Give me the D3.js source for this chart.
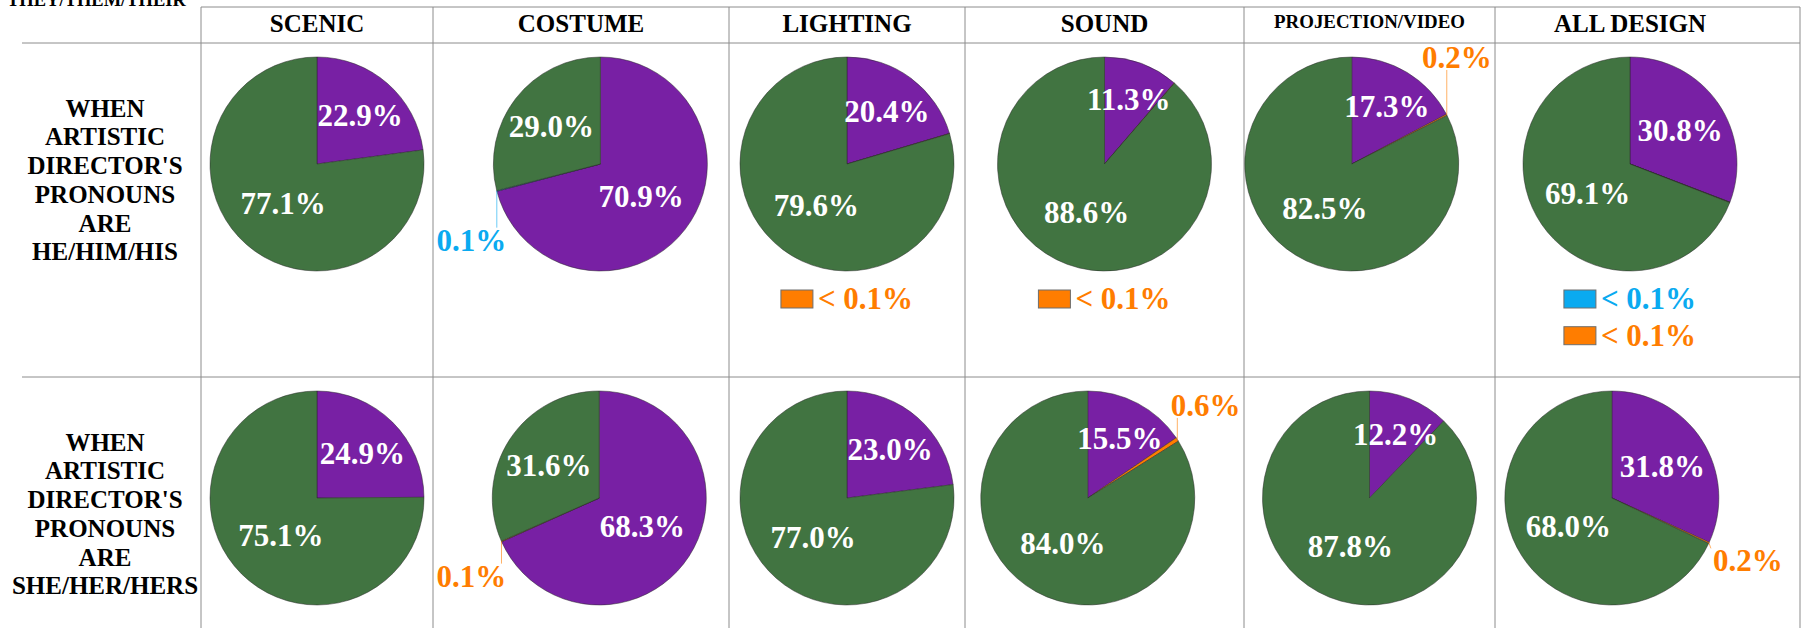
<!DOCTYPE html>
<html>
<head>
<meta charset="utf-8">
<script src="https://cdn.jsdelivr.net/npm/d3@7"></script>
<style>
  body { margin: 0; background: #fff; }
  svg { display: block; font-family: "Liberation Serif", "Times New Roman", serif; font-weight: bold; }
</style>
</head>
<body>
<svg id="chart" width="1809" height="628"></svg>
<script>
// columns of the table
const designAreas = ["SCENIC", "COSTUME", "LIGHTING", "SOUND", "PROJECTION/VIDEO", "ALL DESIGN"];

// designer pronoun groups, in slice order (clockwise from 12 o'clock)
const groups = ["SHE/HER/HERS", "THEY/THEM/THEIR", "NOT LISTED", "HE/HIM/HIS"];
const groupColors = ["#7820a4", "#0aaaf0", "#ff7d00", "#417441"];

// row headings
const rowLabels = [
  ["WHEN", "ARTISTIC", "DIRECTOR'S", "PRONOUNS", "ARE", "HE/HIM/HIS"],
  ["WHEN", "ARTISTIC", "DIRECTOR'S", "PRONOUNS", "ARE", "SHE/HER/HERS"]
];

// row 1: artistic director he/him/his  (values < 0.1 are estimates of "< 0.1%")
const heAdShe   = [22.9, 70.9, 20.4, 11.3, 17.3, 30.8];
const heAdThey  = [0,    0.1,  0,    0,    0,    0.04];
const heAdOther = [0,    0,    0.04, 0.06, 0.2,  0.04];
const heAdHe    = [77.1, 29.0, 79.6, 88.6, 82.5, 69.1];

// row 2: artistic director she/her/hers
const sheAdShe   = [24.9, 68.3, 23.0, 15.5, 12.2, 31.8];
const sheAdThey  = [0,    0,    0,    0,    0,    0];
const sheAdOther = [0,    0.1,  0,    0.6,  0,    0.2];
const sheAdHe    = [75.1, 31.6, 77.0, 84.0, 87.8, 68.0];

const rows = [
  [heAdShe, heAdThey, heAdOther, heAdHe],
  [sheAdShe, sheAdThey, sheAdOther, sheAdHe]
];

// ---- layout
const W = 1809, H = 628;
const colEdges = [201, 433, 729, 965, 1244, 1495, 1800];
const lastBoxRight = 1765;       // chart object in last cell is narrower than the cell
const headerTop = 7, headerBottom = 43;
const rowTops = [43, 377];
const tableLeft = 22;
const R = 107;
const fs = 31;
const gridColor = "#8c8c8c";

const svg = d3.select("#chart");
const color = d3.scaleOrdinal(groups, groupColors);
const boxRight = i => i === designAreas.length - 1 ? lastBoxRight : colEdges[i + 1];
const colX = d3.scaleOrdinal(designAreas, designAreas.map((d, i) => (colEdges[i] + boxRight(i)) / 2));
const fmt = v => v < 0.1 ? "< 0.1%" : d3.format(".1f")(v) + "%";

// ---- grid
const grid = svg.append("g").attr("stroke", gridColor).attr("stroke-width", 1);
grid.append("line").attr("x1", colEdges[0]).attr("x2", colEdges[6]).attr("y1", headerTop).attr("y2", headerTop);
[headerBottom, rowTops[1]].forEach(y => {
  grid.append("line").attr("x1", tableLeft).attr("x2", colEdges[6]).attr("y1", y).attr("y2", y);
});
colEdges.forEach(x => {
  grid.append("line").attr("x1", x).attr("x2", x).attr("y1", headerTop).attr("y2", H);
});

// cut-off legend heading at top-left
svg.append("text")
  .attr("x", 7).attr("y", 6)
  .attr("font-size", 18.5)
  .text(groups[1]);

// ---- column headers
designAreas.forEach((name, i) => {
  const cellW = colEdges[i + 1] - colEdges[i];
  const t = svg.append("text")
    .attr("x", colX(name))
    .attr("text-anchor", "middle")
    .attr("font-size", 25)
    .text(name);
  const w = t.node().getComputedTextLength();
  const size = Math.min(25, 25 * (cellW - 60) / w);
  t.attr("font-size", size).attr("y", 15.5 + 0.662 * size);
});

// ---- pies
const pie = d3.pie().sort(null).value(d => d.value);
const arc = d3.arc().innerRadius(0).outerRadius(R);

rows.forEach((series, r) => {
  const cy = rowTops[r] + 121;

  // row heading
  const lines = rowLabels[r];
  const lh = 28.7;
  const blockMid = cy + 16;
  const lab = svg.append("text").attr("text-anchor", "middle").attr("font-size", 25);
  lines.forEach((ln, k) => {
    lab.append("tspan")
      .attr("x", 105)
      .attr("y", blockMid + (k - (lines.length - 1) / 2) * lh + 8.5)
      .text(ln);
  });

  designAreas.forEach((area, i) => {
    const data = groups.map((g, s) => ({ group: g, value: series[s][i] }));
    const arcs = pie(data);
    const mid = a => (a.startAngle + a.endAngle) / 2;

    const outside = arcs.filter(a => a.data.value >= 0.1 && a.data.value < 1);
    const tiny = arcs.filter(a => a.data.value > 0 && a.data.value < 0.1);
    const shift = outside.length ? -20 * d3.mean(outside, a => Math.sin(mid(a))) : 0;
    const cx = colX(area) + shift;
    const left = colEdges[i] + 3 - cx, right = colEdges[i + 1] - 3 - cx;

    const g = svg.append("g").attr("transform", `translate(${cx},${cy})`);

    g.selectAll("path.slice")
      .data(arcs.filter(a => a.data.value > 0))
      .join("path")
      .attr("class", "slice")
      .attr("d", arc)
      .attr("fill", a => color(a.data.group))
      .attr("stroke", "#2a2a2a")
      .attr("stroke-width", 0.5);

    // labels inside the big slices
    arcs.filter(a => a.data.value >= 1).forEach(a => {
      const th = a.endAngle - a.startAngle;
      const dist = Math.max(4 * R * Math.sin(th / 2) / (3 * th), 0.48 * R);
      const m = mid(a);
      g.append("text")
        .attr("x", dist * Math.sin(m))
        .attr("y", -dist * Math.cos(m) + 0.36 * fs)
        .attr("text-anchor", "middle")
        .attr("font-size", fs)
        .attr("fill", "#fff")
        .text(fmt(a.data.value));
    });

    // small slices: outside label with leader line, kept inside the cell
    outside.forEach(a => {
      const m = mid(a);
      const dist = 1.4 * R;
      const t = g.append("text")
        .attr("text-anchor", "middle")
        .attr("font-size", fs)
        .attr("fill", color(a.data.group))
        .text(fmt(a.data.value));
      const w = t.node().getComputedTextLength();
      // turn the label toward the vertical until it fits
      const target = Math.cos(m) >= 0 ? (m > Math.PI ? 2 * Math.PI : 0) : Math.PI;
      let ang = m;
      const step = (target > m ? 1 : -1) * Math.PI / 360;
      const fits = t0 => {
        const x = dist * Math.sin(t0);
        return x - w / 2 >= left && x + w / 2 <= right;
      };
      while (!fits(ang) && Math.abs(target - ang) > Math.abs(step)) ang += step;
      const lx = dist * Math.sin(ang), ly = -dist * Math.cos(ang) + 0.34 * fs;
      t.attr("x", lx).attr("y", ly);

      const px = R * Math.sin(m), py = -R * Math.cos(m);
      const x0 = lx - w / 2 - 2, x1 = lx + w / 2 + 2;
      const y0 = ly - 0.68 * fs - 2, y1 = ly + 2;
      const ex = Math.max(x0, Math.min(x1, px));
      const ey = Math.max(y0, Math.min(y1, py));
      g.insert("line", "text")
        .attr("x1", px).attr("y1", py)
        .attr("x2", ex).attr("y2", ey)
        .attr("stroke", color(a.data.group))
        .attr("stroke-opacity", 0.6)
        .attr("stroke-width", 1);
    });

    // slices under 0.1%: swatch note below the pie
    tiny.forEach((a, k) => {
      const note = g.append("g");
      const t = note.append("text")
        .attr("font-size", fs)
        .attr("fill", color(a.data.group))
        .text(fmt(a.data.value));
      const w = t.node().getComputedTextLength();
      const total = 32 + 5 + w;
      const top = R + 19 + k * 36.7;
      note.append("rect")
        .attr("x", -total / 2).attr("y", top)
        .attr("width", 32).attr("height", 18)
        .attr("fill", color(a.data.group))
        .attr("stroke", "#6e6e6e")
        .attr("stroke-width", 1);
      t.attr("x", -total / 2 + 37).attr("y", top + 19);
    });
  });
});
</script>
</body>
</html>
